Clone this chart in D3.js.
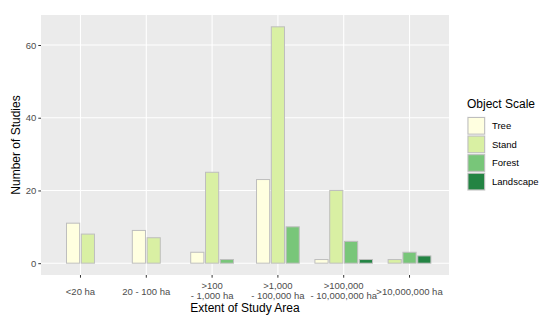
<!DOCTYPE html>
<html>
<head>
<meta charset="utf-8">
<script src="https://cdn.jsdelivr.net/npm/d3@7"></script>
<style>
  body { margin: 0; background: #fff; }
  text { font-family: "Liberation Sans", Arial, sans-serif; }
</style>
</head>
<body>
<div id="chart"></div>
<script>
// data
const categories = ['<20 ha', '20 - 100 ha', '>100\n- 1,000 ha', '>1,000\n- 100,000 ha', '>100,000\n- 10,000,000 ha', '>10,000,000 ha'];
const seriesNames = ['Tree', 'Stand', 'Forest', 'Landscape'];
const tree = [11, 9, 3, 23, 1, 0];
const stand = [8, 7, 25, 65, 20, 1];
const forest = [0, 0, 1, 10, 6, 3];
const landscape = [0, 0, 0, 0, 1, 2];
const colors = ['#ffffe0', '#d9f0a3', '#78c679', '#238443'];
const yTicks = [0, 20, 40, 60];

const width = 550, height = 326;
const panel = { left: 41, right: 449, top: 15, bottom: 275 };

const svg = d3.select('#chart').append('svg')
  .attr('width', width)
  .attr('height', height);

// panel background
svg.append('rect')
  .attr('x', panel.left).attr('y', panel.top)
  .attr('width', panel.right - panel.left)
  .attr('height', panel.bottom - panel.top)
  .attr('fill', '#ebebeb');

// x scale, ggplot style discrete expansion (0.6 units each side)
const x = d3.scaleBand()
  .domain(categories)
  .range([panel.left, panel.right])
  .paddingInner(0)
  .paddingOuter(0.1);

const y = d3.scaleLinear()
  .domain([-3.25, 68.25])
  .range([panel.bottom, panel.top]);

// gridlines
svg.append('g').selectAll('line')
  .data(yTicks)
  .join('line')
  .attr('x1', panel.left).attr('x2', panel.right)
  .attr('y1', d => y(d)).attr('y2', d => y(d))
  .attr('stroke', '#fff').attr('stroke-width', 1.1);

svg.append('g').selectAll('line')
  .data(categories)
  .join('line')
  .attr('x1', d => x(d) + x.bandwidth() / 2)
  .attr('x2', d => x(d) + x.bandwidth() / 2)
  .attr('y1', panel.top).attr('y2', panel.bottom)
  .attr('stroke', '#fff').attr('stroke-width', 1.1);

// build rows
const allSeries = [tree, stand, forest, landscape];
const step = x.bandwidth() * 0.9 / 4;

const bars = [];
categories.forEach(function(c, i) {
  const present = seriesNames.filter((s, j) => allSeries[j][i] > 0);
  const center = x(c) + x.bandwidth() / 2;
  const inner = d3.scaleBand()
    .domain(present)
    .range([center - present.length * step / 2, center + present.length * step / 2])
    .paddingInner(1 - 0.8 / 0.9)
    .paddingOuter((1 - 0.8 / 0.9) / 2);
  present.forEach(function(s) {
    const j = seriesNames.indexOf(s);
    bars.push({ cat: c, series: s, value: allSeries[j][i], x: inner(s), w: inner.bandwidth(), color: colors[j] });
  });
});

svg.append('g').selectAll('rect')
  .data(bars)
  .join('rect')
  .attr('x', d => d.x)
  .attr('width', d => d.w)
  .attr('y', d => y(d.value))
  .attr('height', d => y(0) - y(d.value))
  .attr('fill', d => d.color)
  .attr('stroke', '#bebebe')
  .attr('stroke-width', 1);

// y axis
const yAxis = d3.axisLeft(y).tickValues(yTicks).tickSize(2.7).tickPadding(2);
const yg = svg.append('g')
  .attr('transform', `translate(${panel.left},0)`)
  .call(yAxis);
yg.select('.domain').remove();
yg.selectAll('.tick line').attr('stroke', '#333');
yg.selectAll('.tick text').attr('fill', '#4d4d4d').style('font-size', '9.5px');

// x axis
const xAxis = d3.axisBottom(x).tickSize(2.7).tickFormat('');
const xg = svg.append('g')
  .attr('transform', `translate(0,${panel.bottom})`)
  .call(xAxis);
xg.select('.domain').remove();
xg.selectAll('.tick line').attr('stroke', '#333');

// multi-line tick labels
categories.forEach(function(c) {
  const lines = c.split('\n');
  const cx = x(c) + x.bandwidth() / 2;
  const t = svg.append('text')
    .attr('text-anchor', 'middle')
    .attr('fill', '#4d4d4d')
    .style('font-size', '9.5px');
  lines.forEach(function(l, k) {
    const cy = lines.length === 1 ? 291.5 : (k === 0 ? 285.5 : 296);
    t.append('tspan')
      .attr('x', cx)
      .attr('y', cy)
      .attr('dy', '0.35em')
      .text(l);
  });
});

// axis titles
svg.append('text')
  .attr('x', (panel.left + panel.right) / 2)
  .attr('y', 312)
  .attr('text-anchor', 'middle')
  .style('font-size', '12px')
  .text('Extent of Study Area');

svg.append('text')
  .attr('transform', `translate(15.5,${(panel.top + panel.bottom) / 2}) rotate(-90)`)
  .attr('text-anchor', 'middle')
  .attr('dy', '0.35em')
  .style('font-size', '12px')
  .text('Number of Studies');

// legend
const legend = svg.append('g').attr('transform', 'translate(467,0)');
legend.append('text')
  .attr('x', 0).attr('y', 108)
  .style('font-size', '12px')
  .text('Object Scale');

const keyH = 18.6;
const keys = legend.selectAll('g.key')
  .data(seriesNames)
  .join('g')
  .attr('class', 'key')
  .attr('transform', (d, i) => `translate(0,${116.5 + i * keyH})`);

keys.append('rect')
  .attr('width', keyH).attr('height', keyH)
  .attr('fill', '#f2f2f2');
keys.append('rect')
  .attr('x', 1).attr('y', 1)
  .attr('width', keyH - 2).attr('height', keyH - 2)
  .attr('fill', (d, i) => colors[i])
  .attr('stroke', '#bebebe');
keys.append('text')
  .attr('x', 25).attr('y', keyH / 2)
  .attr('dy', '0.35em')
  .style('font-size', '9.5px')
  .text(d => d);
</script>
</body>
</html>
